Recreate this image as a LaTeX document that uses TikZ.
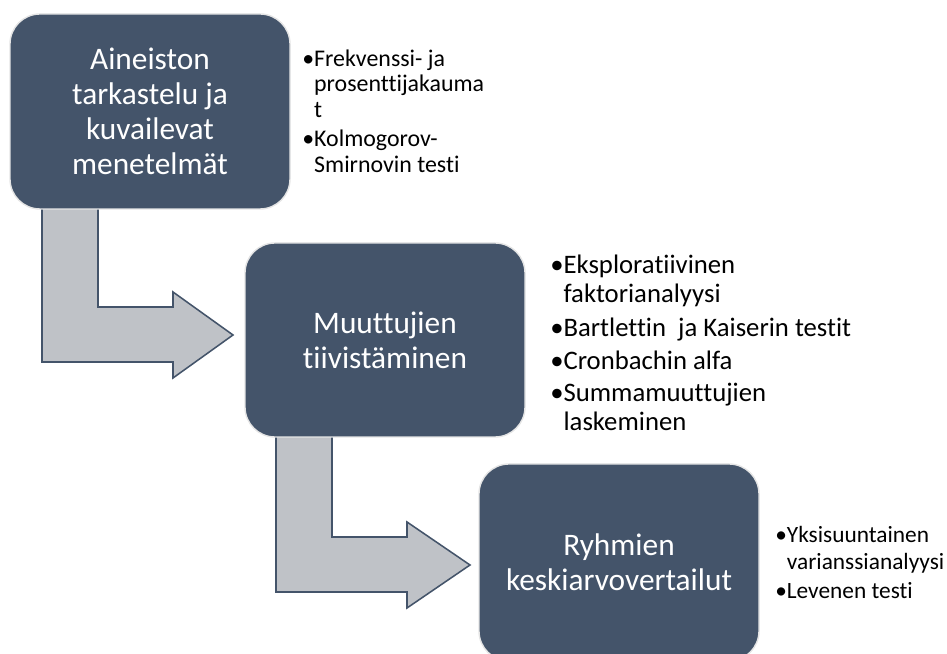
\documentclass[tikz,border=0pt]{standalone}
\usepackage{fontspec}
\setmainfont{Carlito}[Ligatures=NoCommon]
\definecolor{slate}{HTML}{44546A}
\definecolor{arrowgray}{HTML}{BFC2C7}
\tikzstyle{stage}=[rectangle,rounded corners=0.75cm,fill=slate,draw=black!10,line width=1pt,text=white,align=center,inner sep=0pt,minimum width=7cm,font=\fontsize{22.3}{24.9}\selectfont]
\tikzstyle{bentarrow}=[fill=arrowgray,draw=slate,line width=1.1pt,line join=miter]
\tikzstyle{notes}=[anchor=west,align=left,inner sep=0pt]
\newcommand{\hang}{\hphantom{\textbullet}}

\begin{document}
\begin{tikzpicture}
                  \useasboundingbox (0,0) rectangle (23.675,16.35);

                  \draw [bentarrow] (1.05,11.35) -- (2.45,11.35) -- (2.45,8.675) -- (4.325,8.675) -- (4.325,9.05)
                        -- (5.825,7.975) -- (4.325,6.9) -- (4.325,7.3) -- (1.05,7.3) -- cycle;
                  \draw [bentarrow] (6.9,5.6) -- (8.3,5.6) -- (8.3,2.925) -- (10.175,2.925) -- (10.175,3.3)
                        -- (11.75,2.225) -- (10.175,1.15) -- (10.175,1.55) -- (6.9,1.55) -- cycle;

                  \node (s1) at (3.75,13.5625) [stage,minimum height=4.875cm] {Aineiston\\tarkastelu ja\\kuvailevat\\menetelmät};
                  \node (s2) at (9.625,7.85) [stage,minimum height=4.85cm] {Muuttujien\\tiivistäminen};
                  \node (s3) at (15.475,2.2875) [stage,minimum height=4.925cm] {Ryhmien\\keskiarvovertailut};

                  \node (n1) at (7.55,13.575) [notes,font=\fontsize{17}{18.1}\selectfont]
                        {\textbullet Frekvenssi- ja\\\hang prosenttijakauma\\\hang t\\[3pt]
                         \textbullet Kolmogorov-\\\hang Smirnovin testi};
                  \node (n2) at (13.75,7.775) [notes,font=\fontsize{19}{21}\selectfont]
                        {\textbullet Eksploratiivinen\\\hang faktorianalyysi\\[3pt]
                         \textbullet Bartlettin\ \ ja Kaiserin testit\\[2pt]
                         \textbullet Cronbachin alfa\\[2pt]
                         \textbullet Summamuuttujien\\\hang laskeminen};
                  \node (n3) at (19.375,2.29) [notes,font=\fontsize{16.6}{19.2}\selectfont]
                        {\textbullet Yksisuuntainen\\\hang varianssianalyysi\\[1pt]
                         \textbullet Levenen testi};
              \end{tikzpicture}
\end{document}
